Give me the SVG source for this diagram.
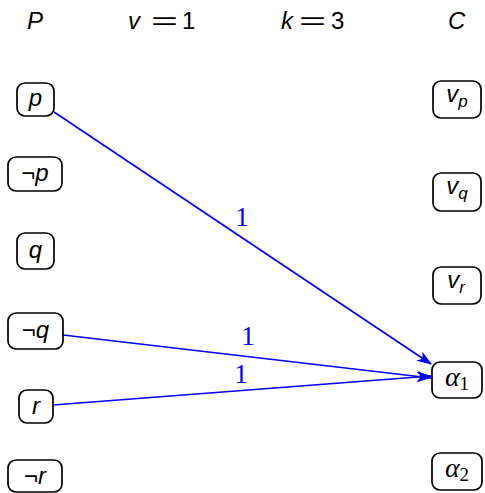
<svg xmlns="http://www.w3.org/2000/svg" width="485" height="493" viewBox="0 0 485 493">
<style>
.box{fill:#fff;stroke:#000;stroke-width:1.7}
.t{font-family:"Liberation Sans",Arial,sans-serif;font-size:24px;fill:#000}
.i{font-style:italic}
.s{font-size:17px}
.g{font-family:"Liberation Serif","Times New Roman",serif;font-size:28px}
.e{fill:none;stroke:#0000ff;stroke-width:1.7}
.l{font-family:"Liberation Serif","Times New Roman",serif;font-size:27px;fill:#0000ff;text-anchor:middle}
</style>
<defs>
<marker id="arr" markerWidth="15" markerHeight="11" refX="14" refY="5.5" orient="auto" markerUnits="userSpaceOnUse">
<path d="M0,0 L15,5.5 L0,11 L4,5.5 Z" fill="#0000ff"/>
</marker>
</defs>
<g id="header">
<text class="t i" x="27" y="29">P</text>
<text class="t i" x="128" y="29">v</text>
<text class="t" x="151" y="29" textLength="27" lengthAdjust="spacingAndGlyphs">=</text>
<text class="t" x="182" y="29">1</text>
<text class="t i" x="281" y="29">k</text>
<text class="t" x="299" y="29" textLength="27" lengthAdjust="spacingAndGlyphs">=</text>
<text class="t" x="331" y="29">3</text>
<text class="t i" x="448" y="29">C</text>
</g>
<g id="connectors">
<line class="e" x1="54" y1="112" x2="431" y2="364" marker-end="url(#arr)"/>
<line class="e" x1="63" y1="335" x2="431" y2="378" marker-end="url(#arr)"/>
<line class="e" x1="53" y1="405" x2="431" y2="376" marker-end="url(#arr)"/>
<text class="l" x="242" y="226">1</text>
<text class="l" x="248" y="345">1</text>
<text class="l" x="241" y="383">1</text>
</g>
<g id="n-p"><rect class="box" x="17" y="83" width="37" height="33" rx="8"/><text class="t i" x="35.5" y="106" text-anchor="middle">p</text></g>
<g id="n-notp"><rect class="box" x="8" y="157" width="54" height="34" rx="8"/><text class="t" x="35" y="181" text-anchor="middle">¬<tspan class="i">p</tspan></text></g>
<g id="n-q"><rect class="box" x="17" y="233" width="37" height="36" rx="8"/><text class="t i" x="35.5" y="258" text-anchor="middle">q</text></g>
<g id="n-notq"><rect class="box" x="8" y="313" width="55" height="36" rx="8"/><text class="t" x="35.5" y="338" text-anchor="middle">¬<tspan class="i">q</tspan></text></g>
<g id="n-r"><rect class="box" x="19" y="390" width="34" height="33" rx="8"/><text class="t i" x="36" y="414" text-anchor="middle">r</text></g>
<g id="n-notr"><rect class="box" x="8" y="460" width="54" height="32" rx="8"/><text class="t" x="35" y="484" text-anchor="middle">¬<tspan class="i">r</tspan></text></g>
<g id="n-vp"><rect class="box" x="433" y="81" width="48" height="37" rx="8"/><text class="t i" x="457" y="102" text-anchor="middle">v<tspan class="s" dy="5">p</tspan></text></g>
<g id="n-vq"><rect class="box" x="433" y="173" width="48" height="38" rx="8"/><text class="t i" x="457" y="194" text-anchor="middle">v<tspan class="s" dy="5">q</tspan></text></g>
<g id="n-vr"><rect class="box" x="433" y="267" width="48" height="37" rx="8"/><text class="t i" x="456" y="288" text-anchor="middle">v<tspan class="s" dy="5">r</tspan></text></g>
<g id="n-a1"><rect class="box" x="432" y="362" width="50" height="36" rx="8"/><text class="g" x="457" y="386" text-anchor="middle"><tspan font-style="italic">α</tspan><tspan font-size="19" dy="4">1</tspan></text></g>
<g id="n-a2"><rect class="box" x="432" y="453" width="50" height="37" rx="8"/><text class="g" x="457" y="477" text-anchor="middle"><tspan font-style="italic">α</tspan><tspan font-size="19" dy="4">2</tspan></text></g>
</svg>
